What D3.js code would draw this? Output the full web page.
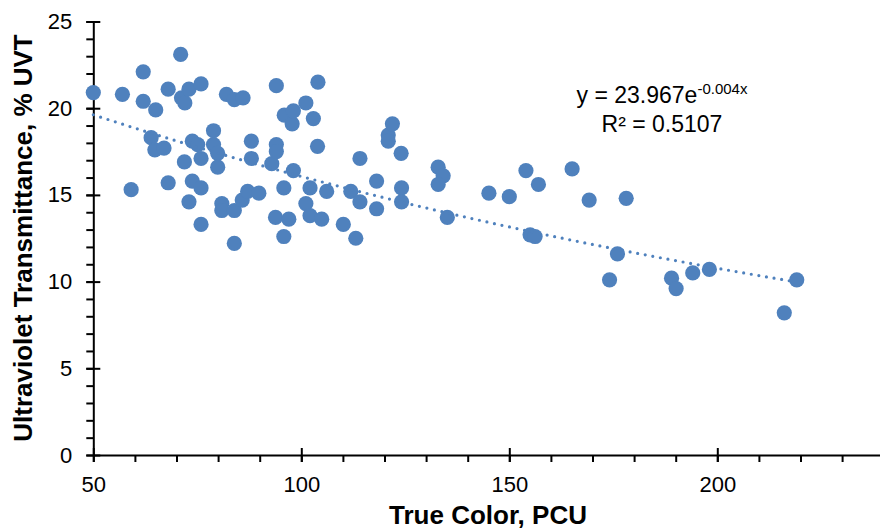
<!DOCTYPE html>
<html>
<head>
<meta charset="utf-8">
<script src="https://cdn.jsdelivr.net/npm/d3@7"></script>
<style>
  html, body { margin: 0; padding: 0; background: #fff; }
  svg { display: block; }
  text { font-family: Arial, "Liberation Sans", sans-serif; fill: #000; }
</style>
</head>
<body>
<svg id="chart" width="880" height="531"></svg>
<script>
// True colour (PCU) of each sample
const trueColor = [
  50, 57, 59.1, 62, 62, 63.9, 64.8, 65, 67, 68,
  68, 71, 71.2, 72, 71.9, 73, 73, 73.8, 73.8, 75.1,
  75.9, 75.9, 75.9, 75.9, 78.9, 78.9, 79.9, 79.9, 80.9, 80.9,
  82, 83.9, 83.9, 83.9, 86, 85.8, 87.1, 88, 88, 89.8,
  92.9, 94, 94, 94, 93.8, 95.8, 95.8, 95.9, 97, 97.8,
  98.1, 98.1, 101.1, 101.1, 102.1, 102.1, 102.9, 104, 103.9, 104.9,
  106.1, 110.1, 111.9, 113.1, 114.1, 114.1, 118.1, 118.1, 120.9, 120.9,
  121.9, 124, 124.1, 124.1, 132.9, 134.1, 132.9, 135.1, 145.1, 150,
  154, 155, 156.2, 157, 165.1, 169.2, 174.1, 176, 178.1, 189,
  190.1, 194.1, 198.1, 216.1, 219.1
];
// Ultraviolet transmittance (% UVT) of each sample
const uvt = [
  20.9, 20.8, 15.3, 22.1, 20.4, 18.3, 17.6, 19.9, 17.7, 21.1,
  15.7, 23.1, 20.6, 20.3, 16.9, 21.1, 14.6, 18.1, 15.8, 17.9,
  21.4, 17.1, 15.4, 13.3, 18.7, 17.9, 17.4, 16.6, 14.5, 14.1,
  20.8, 20.5, 14.1, 12.2, 20.6, 14.7, 15.2, 18.1, 17.1, 15.1,
  16.8, 21.3, 17.9, 17.5, 13.7, 15.4, 12.6, 19.6, 13.6, 19.1,
  19.85, 16.4, 20.3, 14.5, 15.4, 13.8, 19.4, 21.5, 17.8, 13.6,
  15.2, 13.3, 15.2, 12.5, 17.1, 14.6, 15.8, 14.2, 18.45, 18.1,
  19.1, 17.4, 15.4, 14.6, 16.6, 16.1, 15.6, 13.7, 15.1, 14.9,
  16.4, 12.7, 12.6, 15.6, 16.5, 14.7, 10.1, 11.6, 14.8, 10.2,
  9.6, 10.5, 10.7, 8.2, 10.1
];

// Exponential trend: y = a * e^(b x), R²
const trendA = 23.967;
const trendB = -0.004;
const rSquared = "0.5107";

const xMajorTicks = [50, 100, 150, 200];
const xMinorTicks = d3.range(50, 241, 10);
const yMajorTicks = [0, 5, 10, 15, 20, 25];
const yMinorTicks = d3.range(0, 26, 1);

const color = "#4F81BD";
const svg = d3.select("#chart");

const x = d3.scaleLinear().domain([50, 240]).range([93.3, 883.7]);
const y = d3.scaleLinear().domain([0, 25]).range([455, 21.5]);

// Minor ticks (outside only)
svg.append("g")
  .attr("transform", `translate(0,${y(0)})`)
  .call(d3.axisBottom(x).tickValues(xMinorTicks).tickSize(7).tickFormat(""))
  .call(g => g.select(".domain").remove())
  .call(g => g.selectAll(".tick line").attr("stroke", "#000").attr("stroke-width", 2));

svg.append("g")
  .attr("transform", `translate(${x(50)},0)`)
  .call(d3.axisLeft(y).tickValues(yMinorTicks).tickSize(7).tickFormat(""))
  .call(g => g.select(".domain").remove())
  .call(g => g.selectAll(".tick line").attr("stroke", "#000").attr("stroke-width", 2));

// Major x axis, ticks cross the axis line
svg.append("g")
  .attr("transform", `translate(0,${y(0)})`)
  .call(d3.axisBottom(x).tickValues(xMajorTicks).tickSize(7).tickSizeOuter(0).tickPadding(14))
  .call(g => g.select(".domain").attr("stroke", "#000").attr("stroke-width", 2))
  .call(g => g.selectAll(".tick line").attr("y1", -7).attr("stroke", "#000").attr("stroke-width", 2))
  .call(g => g.selectAll(".tick text").attr("font-size", 22).attr("font-family", "Arial, 'Liberation Sans', sans-serif").attr("fill", "#000"));

// Major y axis
svg.append("g")
  .attr("transform", `translate(${x(50)},0)`)
  .call(d3.axisLeft(y).tickValues(yMajorTicks).tickSize(7).tickSizeOuter(0).tickPadding(14))
  .call(g => g.select(".domain").attr("stroke", "#000").attr("stroke-width", 2))
  .call(g => g.selectAll(".tick line").attr("x1", 7).attr("stroke", "#000").attr("stroke-width", 2))
  .call(g => g.selectAll(".tick text").attr("font-size", 22).attr("font-family", "Arial, 'Liberation Sans', sans-serif").attr("fill", "#000"));

// Sample points
const points = trueColor.map((v, i) => ({ x: v, y: uvt[i] }));
svg.append("g")
  .selectAll("circle")
  .data(points)
  .join("circle")
  .attr("cx", d => x(d.x))
  .attr("cy", d => y(d.y))
  .attr("r", 7.6)
  .attr("fill", color);

// Dotted exponential trendline over the data range
const xMin = d3.min(trueColor), xMax = d3.max(trueColor);
const trend = d3.range(0, 101).map(i => {
  const xv = xMin + (xMax - xMin) * i / 100;
  return [xv, trendA * Math.exp(trendB * xv)];
});
svg.append("path")
  .datum(trend)
  .attr("fill", "none")
  .attr("stroke", color)
  .attr("stroke-width", 3.2)
  .attr("stroke-linecap", "round")
  .attr("stroke-dasharray", "0 7.7")
  .attr("d", d3.line().x(d => x(d[0])).y(d => y(d[1])));

// Trendline equation and R²
const eq = svg.append("text")
  .attr("x", 662).attr("y", 103)
  .attr("text-anchor", "middle")
  .attr("font-size", 23);
eq.append("tspan").text(`y = ${trendA}e`);
eq.append("tspan").attr("dy", -9).attr("font-size", 15).text(`${trendB}x`);

svg.append("text")
  .attr("x", 662).attr("y", 132)
  .attr("text-anchor", "middle")
  .attr("font-size", 23)
  .text(`R² = ${rSquared}`);

// Axis titles
svg.append("text")
  .attr("x", 488).attr("y", 524)
  .attr("text-anchor", "middle")
  .attr("font-size", 26)
  .attr("font-weight", "bold")
  .text("True Color, PCU");

svg.append("text")
  .attr("transform", "translate(32,238) rotate(-90)")
  .attr("text-anchor", "middle")
  .attr("font-size", 26)
  .attr("font-weight", "bold")
  .text("Ultraviolet Transmittance, % UVT");
</script>
</body>
</html>
